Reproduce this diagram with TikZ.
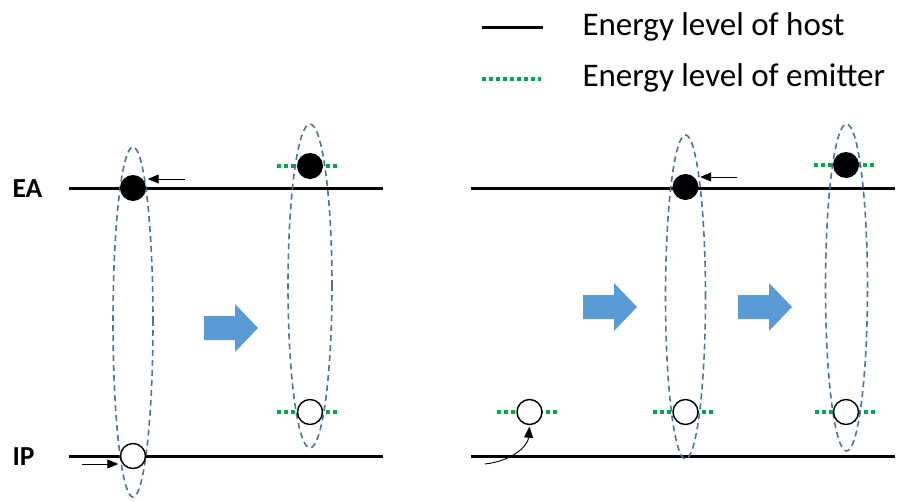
\documentclass[tikz,border=0pt]{standalone}
\usepackage{fontspec}
\setmainfont{Carlito}
\usetikzlibrary{arrows.meta}
\definecolor{emitgreen}{HTML}{00A650}
\definecolor{ellblue}{HTML}{4F7399}
\definecolor{blockblue}{HTML}{5B9BD5}
\begin{document}
\begin{tikzpicture}[x=1pt,y=-1pt,
  hostline/.style={line width=3pt},
  emitline/.style={emitgreen, line width=3.5pt, dash pattern=on 3.5pt off 3.5pt},
  orbit/.style={ellblue, line width=1.6pt, dash pattern=on 6pt off 4pt},
  elec/.style={circle, fill=black, minimum size=26pt, inner sep=0pt},
  hole/.style={circle, draw=black, fill=white, line width=1.4pt, minimum size=25pt, inner sep=0pt},
  pointer/.style={line width=0.9pt, -{Triangle[length=11pt,width=9pt]}, shorten >=1.5pt},
  legendtext/.style={anchor=base west, font=\fontsize{33}{36}\selectfont},
  leveltext/.style={anchor=base west, font=\fontsize{27.5}{30}\selectfont\bfseries},
  blockarrow/.pic={\fill[blockblue] (0,-12) -- (31,-12) -- (31,-24) -- (54,0) -- (31,24) -- (31,12) -- (0,12) -- cycle;}
]
\useasboundingbox (0,0) rectangle (900,501);

% legend
\draw[hostline] (482,27) -- (543,27);
\node[legendtext] (lg1) at (579,35) {Energy level of host};
\draw[emitline] (482,79) -- (541,79);
\node[legendtext] (lg2) at (579,86) {Energy level of emitter};

% labels
\node[leveltext] (ea) at (9,197) {EA};
\node[leveltext] (ip) at (9,465) {IP};

% host levels
\draw[hostline] (69,188) -- (383,188);
\draw[hostline] (69,456) -- (383,456);
\draw[hostline] (471,188) -- (895,188);
\draw[hostline] (471,456) -- (895,456);

% emitter levels
\draw[emitline] (277,166) -- (338,166);
\draw[emitline] (277,412) -- (338,412);
\draw[emitline] (497,412) -- (558,412);
\draw[emitline] (653,412) -- (715,412);
\draw[emitline] (814,165) -- (877,165);
\draw[emitline] (815,412) -- (877,412);

% exciton ellipses
\draw[orbit] (133,322) ellipse [x radius=20pt, y radius=175pt];
\draw[orbit] (310,286) ellipse [x radius=22pt, y radius=162pt];
\draw[orbit] (685.5,297) ellipse [x radius=20pt, y radius=162pt];
\draw[orbit] (846.5,287.5) ellipse [x radius=21pt, y radius=163.5pt];

% electrons and holes
\node[elec] (e1) at (133,188) {};
\node[hole] (h1) at (133,456) {};
\node[elec] (e2) at (310,166) {};
\node[hole] (h2) at (310,412) {};
\node[hole] (h3) at (529.5,412) {};
\node[elec] (e4) at (685.5,187) {};
\node[hole] (h4) at (685.5,412) {};
\node[elec] (e5) at (846,165) {};
\node[hole] (h5) at (846,412) {};

% small pointers
\coordinate (p1) at (185,179);
\draw[pointer] (p1) -- (p1 -| e1.east);
\coordinate (p2) at (82,464);
\draw[pointer] (p2) -- (p2 -| h1.west);
\coordinate (p3) at (737,177);
\draw[pointer] (p3) -- (p3 -| e4.east);
\coordinate (p4) at (485,464);
\draw[pointer] (p4) .. controls (512,461) and (528,446) .. (h3.south);

% block arrows
\pic at (204,328) {blockarrow};
\pic at (583,307) {blockarrow};
\pic at (738,307) {blockarrow};
\end{tikzpicture}
\end{document}
